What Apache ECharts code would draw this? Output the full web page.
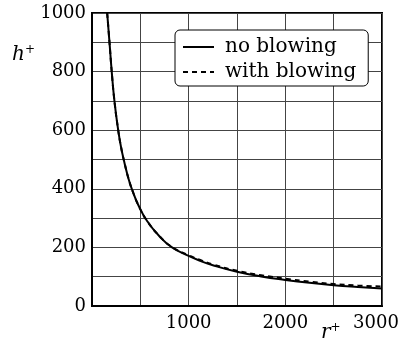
<!DOCTYPE html>
<html>
<head>
<meta charset="utf-8">
<script src="https://cdn.jsdelivr.net/npm/echarts@6/dist/echarts.min.js"></script>
<style>html,body{margin:0;padding:0;background:#fff}#c{width:404px;height:342px}</style>
</head>
<body>
<div id="c"></div>
<script>
var seriesNames = ['no blowing', 'with blowing'];
var rPlus = [157, 181, 204, 232, 271, 300, 335, 380, 425, 480, 570, 700, 828, 1000, 1120, 1250, 1500, 1750, 2000, 2250, 2500, 2750, 3000];
var hNoBlowing = [1000, 900, 800, 700, 600, 543, 490, 432, 388, 344, 290, 237, 200, 171, 154, 139, 117, 101, 89, 79, 71, 65, 60];
var hWithBlowing = [1000, 900, 800, 700, 600, 543, 490, 432, 388, 344, 290, 238, 201, 173, 157, 142, 120, 105, 93, 83, 75, 70, 66];
var yTickLabels = ['0', '200', '400', '600', '800', '1000'];
var xTickLabels = ['1000', '2000', '3000'];

function pairs(xs, ys) { return xs.map(function (x, i) { return [x, ys[i]]; }); }

var chart = echarts.init(document.getElementById('c'), null, {renderer: 'canvas'});
var font = 'DejaVu Serif';
chart.setOption({
  animation: false,
  backgroundColor: '#fff',
  grid: {left: 92, right: 22, top: 13, bottom: 36, show: true, borderColor: '#000', borderWidth: 2, backgroundColor: 'transparent'},
  xAxis: {
    type: 'value', min: 0, max: 3000, interval: 500,
    axisLine: {show: true, lineStyle: {color: '#000', width: 2}},
    axisTick: {show: false},
    splitLine: {show: true, lineStyle: {color: '#444', width: 1}},
    axisLabel: {
      margin: 8, color: '#000', fontFamily: font, fontSize: 18,
      formatter: function (v) {
        var s = String(v);
        if (xTickLabels.indexOf(s) < 0) return '';
        if (s === xTickLabels[xTickLabels.length - 1]) return '{r|' + s + '}';
        return s;
      },
      rich: {r: {fontFamily: font, fontSize: 18, color: '#000', padding: [0, 12, 0, 0]}}
    }
  },
  yAxis: {
    type: 'value', min: 0, max: 1000, interval: 100,
    axisLine: {show: true, lineStyle: {color: '#000', width: 2}},
    axisTick: {show: false},
    splitLine: {show: true, lineStyle: {color: '#444', width: 1}},
    axisLabel: {
      margin: 6, color: '#000', fontFamily: font, fontSize: 18,
      formatter: function (v) { var s = String(v); return yTickLabels.indexOf(s) >= 0 ? s : ''; }
    }
  },
  legend: {
    show: true,
    orient: 'vertical', left: 175, top: 30,
    padding: [7, 12, 4, 7], itemGap: 5, itemWidth: 31, itemHeight: 14,
    backgroundColor: '#fff', borderColor: '#000', borderWidth: 1, borderRadius: 5,
    itemStyle: {opacity: 0},
    lineStyle: {width: 2},
    textStyle: {fontFamily: font, fontSize: 20, color: '#000', lineHeight: 20, padding: [0, 0, 0, 6]},
    data: seriesNames
  },
  graphic: [
    {type: 'text', left: 12, top: 44, style: {rich: {i: {fontFamily: font, fontStyle: 'italic', fontSize: 20, fill: '#000'}, s: {fontFamily: font, fontSize: 12, fill: '#000', verticalAlign: 'top', padding: [0, 0, 10, 0]}}, text: '{i|h}{s|+}'}},
    {type: 'text', left: 321, top: 322, style: {rich: {i: {fontFamily: font, fontStyle: 'italic', fontSize: 20, fill: '#000'}, s: {fontFamily: font, fontSize: 12, fill: '#000', verticalAlign: 'top', padding: [0, 0, 10, 0]}}, text: '{i|r}{s|+}'}}
  ],
  series: [
    {name: seriesNames[0], type: 'line', data: pairs(rPlus, hNoBlowing), showSymbol: false, symbol: 'none', smooth: 0.5, clip: true,
     lineStyle: {color: '#000', width: 2, type: 'solid'}, itemStyle: {color: '#000'}, z: 4},
    {name: seriesNames[1], type: 'line', data: pairs(rPlus, hWithBlowing), showSymbol: false, symbol: 'none', smooth: 0.5, clip: true,
     lineStyle: {color: '#000', width: 2, type: [5, 4]}, itemStyle: {color: '#000'}, z: 3}
  ]
});
</script>
</body>
</html>
